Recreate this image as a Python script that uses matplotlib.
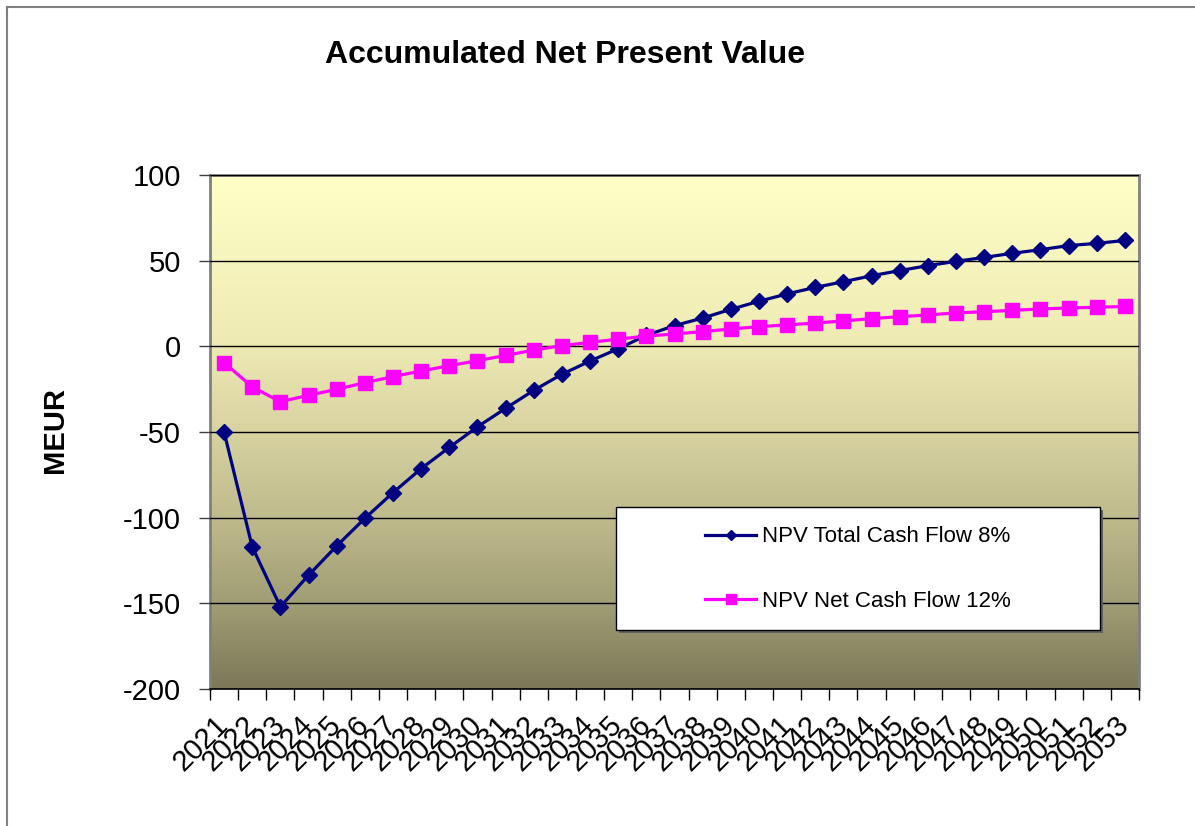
import matplotlib
matplotlib.use("Agg")
import matplotlib.pyplot as plt
import numpy as np
from matplotlib.colors import LinearSegmentedColormap
from matplotlib.patches import Rectangle
from matplotlib.lines import Line2D

plt.rcParams['font.family'] = ['Liberation Sans', 'DejaVu Sans']
plt.rcParams['axes.unicode_minus'] = False

years = [str(y) for y in range(2021, 2054)]
npv_total_8 = [-50, -117, -152, -133.6, -116.5, -100.4, -85.4, -71.4, -59, -47,
               -36.2, -25.7, -16.3, -8.6, -1.4, 6.4, 12.1, 16.5, 21.6, 26.3,
               30.6, 34.4, 37.7, 41.2, 44.2, 47.1, 49.6, 51.9, 54.3, 56.4,
               58.8, 60.1, 61.8]
npv_net_12 = [-9.5, -23.7, -32.3, -28.6, -25.1, -21.2, -17.7, -14.4, -11.3, -8.4,
              -5.3, -2.2, 0.4, 2.3, 4.2, 6.0, 7.2, 8.6, 10.1, 11.5,
              12.5, 13.6, 14.8, 16.2, 17.3, 18.3, 19.5, 20.2, 21.0, 21.8,
              22.4, 22.8, 23.3]
label_total = "NPV Total Cash Flow 8%"
label_net = "NPV Net Cash Flow 12%"

W, H = 1195, 826
fig = plt.figure(figsize=(W / 100, H / 100), dpi=100)
ax = fig.add_axes([210 / W, 1 - 689 / H, 929 / W, 514 / H])

# excel style gradient fill of the plot area
stops = [(0.0, (122, 120, 88)), (0.16, (160, 156, 115)), (0.33, (190, 186, 140)),
         (0.5, (215, 210, 160)), (0.67, (238, 234, 180)), (1.0, (255, 255, 200))]
cmap = LinearSegmentedColormap.from_list(
    "bg", [(p, tuple(c / 255 for c in col)) for p, col in stops])
grad = np.linspace(0, 1, 256).reshape(-1, 1)
ax.imshow(grad, cmap=cmap, aspect='auto', origin='lower',
          extent=[0, 1, 0, 1], transform=ax.transAxes, zorder=0)

x = np.arange(len(years))
ax.plot(x, npv_total_8, color='#000080', lw=2.3, marker='D', markersize=8,
        label=label_total, zorder=3)
ax.plot(x, npv_net_12, color='#FF00FF', lw=2.3, marker='s', markersize=10,
        label=label_net, zorder=4)

ax.set_xlim(-0.5, len(years) - 0.5)
ax.set_ylim(-200, 100)
ax.set_yticks(np.arange(-200, 101, 50))
ax.yaxis.grid(True, color='black', lw=1)
ax.set_axisbelow(False)
for gl in ax.get_ygridlines():
    gl.set_zorder(1)

ax.set_xticks(x)
ax.set_xticklabels(years, rotation=45, ha='right', va='center',
                   rotation_mode='anchor', fontsize=21)
ax.set_xticks(np.arange(-0.5, len(years), 1), minor=True)
ax.tick_params(axis='x', which='major', length=0, pad=23)
ax.tick_params(axis='x', which='minor', length=8, width=1, color='black')
ax.tick_params(axis='y', labelsize=21, length=8, width=1, pad=13, color='#404040')

for s in ['left', 'top', 'right']:
    ax.spines[s].set_color('#808080')
    ax.spines[s].set_linewidth(2)
ax.spines['bottom'].set_color('black')
ax.spines['bottom'].set_linewidth(1.2)

fig.text(565 / W, 1 - 55 / H, "Accumulated Net Present Value", fontsize=23,
         fontweight='bold', ha='center', va='center')
fig.text(55 / W, 1 - 430 / H, "MEUR", fontsize=21, fontweight='bold',
         rotation=90, ha='center', va='center')

# legend box with shadow
fig.patches.append(Rectangle((619 / W, 1 - 633 / H), 484 / W, 123 / H,
                             transform=fig.transFigure, facecolor='#606060',
                             edgecolor='none', zorder=5))
fig.patches.append(Rectangle((616 / W, 1 - 630 / H), 484 / W, 123 / H,
                             transform=fig.transFigure, facecolor='white',
                             edgecolor='black', lw=1, zorder=6))
leg = ax.legend(loc='center', bbox_to_anchor=(858 / W, 1 - 569 / H),
                bbox_transform=fig.transFigure, frameon=False, fontsize=16,
                numpoints=1, handlelength=2.3, handletextpad=0.25,
                labelspacing=1.95, markerscale=0.7)
leg.set_zorder(7)
fig.legends.append(leg)
ax.legend_ = None

# outer chart border (top and left visible)
fig.add_artist(Line2D([7 / W, 1], [1 - 7 / H, 1 - 7 / H], color='#808080', lw=1.5,
                      transform=fig.transFigure))
fig.add_artist(Line2D([7 / W, 7 / W], [0, 1 - 7 / H], color='#808080', lw=1.5,
                      transform=fig.transFigure))

fig.savefig("out.png", dpi=100)
